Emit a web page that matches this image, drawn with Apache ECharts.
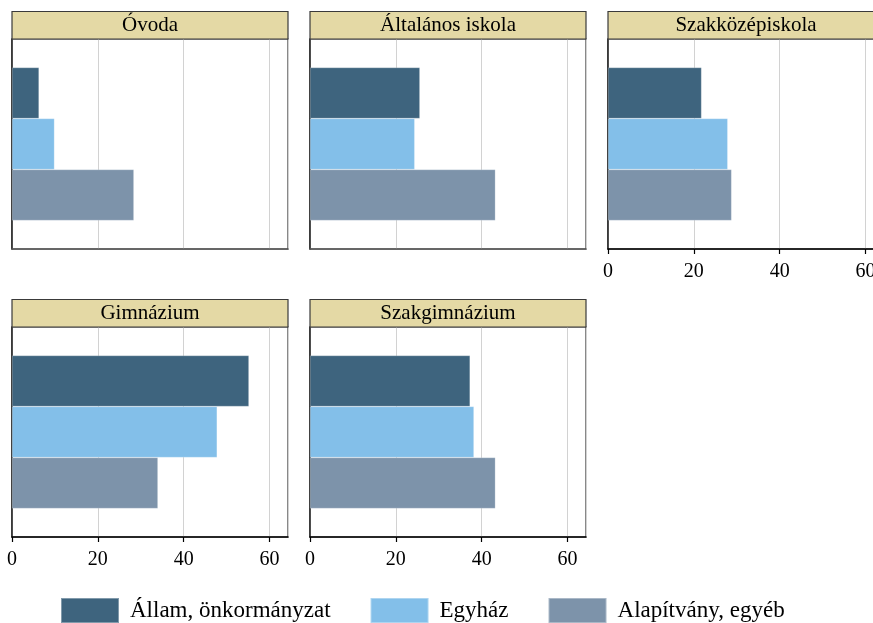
<!DOCTYPE html>
<html>
<head>
<meta charset="utf-8">
<script src="https://cdn.jsdelivr.net/npm/echarts@6/dist/echarts.min.js"></script>
<style>
  html, body { margin: 0; padding: 0; background: #fff; }
  #main { width: 873px; height: 623px; }
</style>
</head>
<body>
<div id="main"></div>
<script>
// panel titles and series names
var panels = ['Óvoda', 'Általános iskola', 'Szakközépiskola', 'Gimnázium', 'Szakgimnázium'];
var seriesNames = ['Állam, önkormányzat', 'Egyház', 'Alapítvány, egyéb'];
var xTicks = [0, 20, 40, 60];

// values per panel, in the same order as panels
var allam = [6.3, 25.6, 21.8, 55.2, 37.3];
var egyhaz = [9.9, 24.4, 27.9, 47.8, 38.2];
var alapitvany = [28.4, 43.2, 28.8, 34.0, 43.2];

var colors = ['#3e647e', '#83bfe9', '#7d93aa'];
var font = 'Liberation Serif';

var lefts = [12, 310, 608];
var tops = [39, 327];
var W = 276, H = 210, headH = 27.5;
// which panels show axis labels
var labeled = [false, false, true, true, true];

var grids = [], xAxes = [], yAxes = [], series = [], graphics = [];
var values = [allam, egyhaz, alapitvany];

panels.forEach(function (name, i) {
    var col = i % 3, row = Math.floor(i / 3);
    var left = lefts[col], top = tops[row];
    grids.push({
        left: left, top: top, width: W, height: H,
        outerBoundsMode: 'none',
        show: true, borderColor: '#3a3a3a', borderWidth: 1.2, backgroundColor: '#fff'
    });
    xAxes.push({
        gridIndex: i,
        type: 'value',
        min: 0,
        max: 64.3,
        interval: 20,
        axisLine: { show: true, lineStyle: { color: labeled[i] ? '#000' : '#555', width: 1.5 } },
        axisTick: { show: labeled[i], length: 5, lineStyle: { color: '#000', width: 1.2 } },
        axisLabel: {
            show: labeled[i], showMaxLabel: false, margin: 13,
            fontFamily: font, fontSize: 20, color: '#000'
        },
        splitLine: { show: true, lineStyle: { color: '#d2d2d2', width: 1 } }
    });
    yAxes.push({
        gridIndex: i,
        type: 'category',
        data: [name],
        axisLine: { show: true, lineStyle: { color: '#222', width: 1.5 } },
        axisTick: { show: false },
        axisLabel: { show: false }
    });
    for (var s = 0; s < 3; s++) {
        series.push({
            name: seriesNames[s],
            type: 'bar',
            xAxisIndex: i,
            yAxisIndex: i,
            barWidth: 51,
            barGap: '0%',
            itemStyle: { color: colors[s], borderColor: 'rgba(255,255,255,0.35)', borderWidth: 0.6 },
            data: [values[s][i]]
        });
    }
    graphics.push({
        type: 'rect',
        shape: { x: left, y: top - headH, width: W, height: headH },
        style: { fill: '#e4d9a5', stroke: '#3a3a3a', lineWidth: 1.2 },
        z: 10
    });
    graphics.push({
        type: 'text',
        x: left + W / 2,
        y: top - headH / 2,
        style: {
            text: name, fill: '#000', font: '21px "Liberation Serif"',
            align: 'center', verticalAlign: 'middle'
        },
        z: 11
    });
});

var chart = echarts.init(document.getElementById('main'));
chart.setOption({
    animation: false,
    color: colors,
    legend: {
        data: seriesNames,
        left: 60,
        top: 597,
        padding: 0,
        icon: 'rect',
        itemWidth: 58,
        itemHeight: 25,
        itemGap: 39,
        textStyle: { fontFamily: font, fontSize: 23, color: '#000', padding: [0, 0, 0, 6] }
    },
    grid: grids,
    xAxis: xAxes,
    yAxis: yAxes,
    series: series,
    graphic: graphics
});
</script>
</body>
</html>
